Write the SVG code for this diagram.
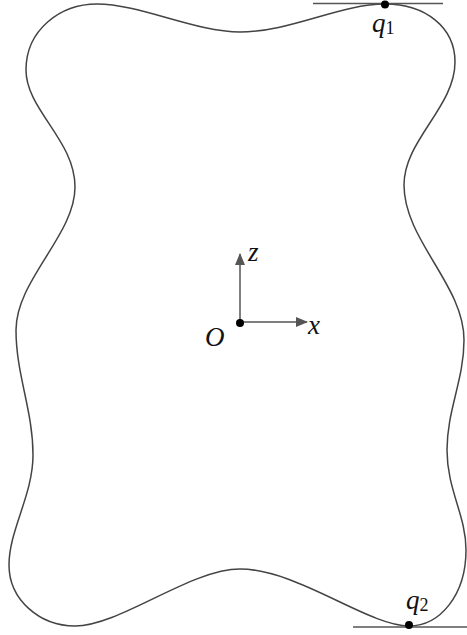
<svg xmlns="http://www.w3.org/2000/svg" width="467" height="635" viewBox="0 0 467 635">
<defs>
<marker id="arr" viewBox="0 0 12 10" refX="11" refY="5" markerWidth="13" markerHeight="10" markerUnits="userSpaceOnUse" orient="auto">
<path d="M0,0 L12,5 L0,10 Z" fill="#555"/>
</marker>
</defs>
<style>
.curve{fill:none;stroke:#444;stroke-width:1.5}
.tan{stroke:#555;stroke-width:1.3}
.axis{stroke:#555;stroke-width:1.5;fill:none}
.lbl{font-family:"Liberation Serif","DejaVu Serif",serif;font-style:italic;font-size:27px;fill:#111}
.sub{font-family:"Liberation Serif","DejaVu Serif",serif;font-style:normal;font-size:18px;fill:#111}
.dot{fill:#000}
</style>
<g id="boundary">
<path class="curve" d="M385,4 C425,4 455,27 455,62 C455,107 404,140 404,185 C404,240 464,285 464,340 C464,380 447,410 447,450 C447,490 466,515 466,550 C466,595 440,626 409,626 C368,626 297,569 240,569 C190,569 120,626 75,626 C40,626 9,600 9,565 C9,530 33,495 33,455 C33,410 16,375 16,330 C16,280 75,235 75,187 C75,140 26,110 26,70 C26,30 60,4 97,4 C140,4 195,32 240,32 C290,32 340,4 385,4 Z"/>
</g>
<g id="q1">
<line class="tan" x1="313" y1="3.5" x2="443" y2="3.5"/>
<circle class="dot" cx="385" cy="4.5" r="4"/>
<text class="lbl" x="372" y="32">q<tspan class="sub" dy="2">1</tspan></text>
</g>
<g id="q2">
<line class="tan" x1="353" y1="627" x2="467" y2="627"/>
<circle class="dot" cx="409" cy="625" r="4"/>
<text class="lbl" x="406" y="609">q<tspan class="sub" dy="2">2</tspan></text>
</g>
<g id="connectors">
<line class="axis" x1="240" y1="323" x2="240" y2="254" marker-end="url(#arr)"/>
<line class="axis" x1="240" y1="322" x2="307" y2="322" marker-end="url(#arr)"/>
</g>
<g id="origin">
<circle class="dot" cx="240" cy="323" r="4"/>
<text class="lbl" x="205" y="346">O</text>
</g>
<g id="axis-labels">
<text class="lbl" x="248" y="261">z</text>
<text class="lbl" x="308" y="334">x</text>
</g>
</svg>
